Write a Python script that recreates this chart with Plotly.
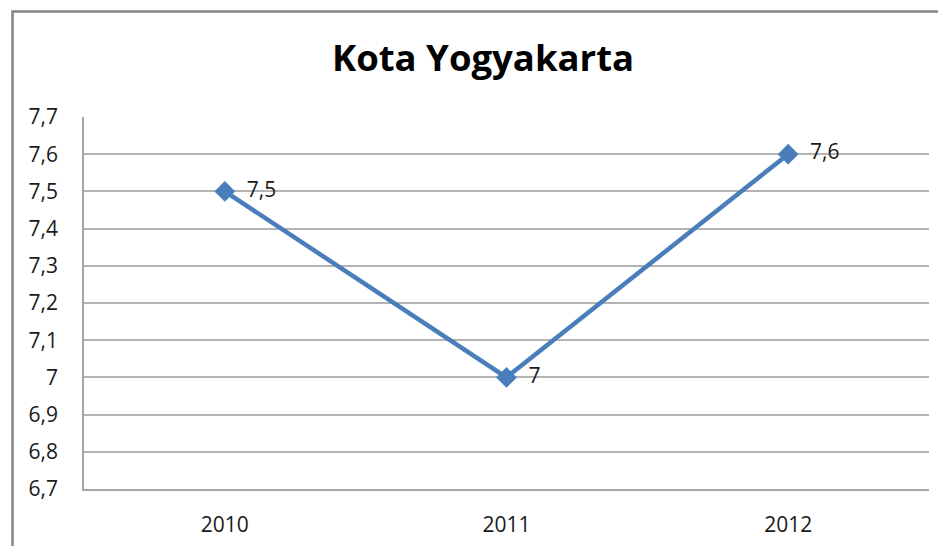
import plotly.graph_objects as go

years = ["2010", "2011", "2012"]
values = [7.5, 7.0, 7.6]
value_labels = ["7,5", "7", "7,6"]
y_tickvals = [6.7, 6.8, 6.9, 7.0, 7.1, 7.2, 7.3, 7.4, 7.5, 7.6, 7.7]
y_ticktext = ["6,7", "6,8", "6,9", "7", "7,1", "7,2", "7,3", "7,4", "7,5", "7,6", "7,7"]
title_text = "Kota Yogyakarta"

FONT = "Open Sans, Lato, sans-serif"

# page body has an 8px margin; figure is placed at (8, 8)
W, H = 938, 538
L, R, T, B = 76, 17, 109, 57
pw, ph = W - L - R, H - T - B

def px_x(x):  # window x -> paper coord
    return (x - 8 - L) / pw

def px_y(y):  # window y -> paper coord
    return (H - B - (y - 8)) / ph

fig = go.Figure()
fig.add_trace(go.Scatter(
    x=years, y=values, mode="lines+markers+text",
    text=["  " + t for t in value_labels], textposition="middle right",
    textfont=dict(size=21, color="#1a1a1a", family=FONT),
    line=dict(color="#4a7ebb", width=4.5),
    marker=dict(symbol="diamond", size=16, color="#4a7ebb"),
    cliponaxis=False, showlegend=False,
))

fig.update_layout(
    width=W, height=H,
    margin=dict(l=L, r=R, t=T, b=B, autoexpand=False),
    paper_bgcolor="white", plot_bgcolor="white",
    title=dict(text="<b>" + title_text + "</b>", x=(483 - 8) / W, xanchor="center",
               y=1 - (58 - 8) / H, yanchor="middle",
               font=dict(size=36.5, color="#000000", family="Open Sans, sans-serif")),
    xaxis=dict(type="category", range=[-0.5, 2.5], showgrid=False, automargin=False,
               showline=True, linecolor="#a6a6a6", linewidth=1.5,
               ticks="", tickfont=dict(size=21, color="#1a1a1a", family=FONT),
               ticklabelstandoff=16),
    yaxis=dict(range=[6.7, 7.7], tickvals=y_tickvals, ticktext=y_ticktext, automargin=False,
               showgrid=True, gridcolor="#b3b3b3", gridwidth=1.5,
               showline=True, linecolor="#a6a6a6", linewidth=1.5,
               ticks="", tickfont=dict(size=21, color="#1a1a1a", family=FONT),
               ticklabelstandoff=20, zeroline=False),
    shapes=[dict(type="rect", xref="paper", yref="paper",
                 x0=px_x(12.5), x1=px_x(960), y0=px_y(560), y1=px_y(11.5),
                 line=dict(color="#858585", width=2.5), fillcolor="rgba(0,0,0,0)", layer="below")],
)

fig.write_html("out.html")
